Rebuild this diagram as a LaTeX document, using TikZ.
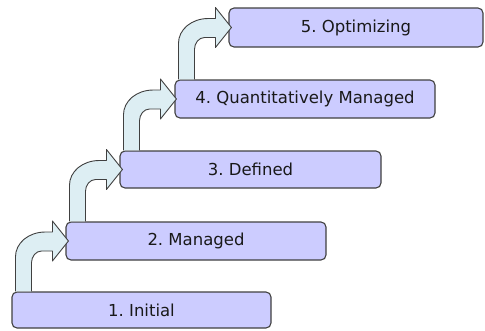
\documentclass[tikz,border=0pt]{standalone}
\usepackage{fontspec}
\setmainfont{DejaVu Sans}
\usetikzlibrary{calc}
\definecolor{boxfill}{HTML}{CCCCFF}
\definecolor{arrfill}{HTML}{DDEEF3}
\definecolor{edge}{HTML}{404040}
\tikzset{
  levelbox/.style={draw=edge, fill=boxfill, line width=1.1pt, rounded corners=5pt,
    inner sep=0pt, font=\fontsize{16.5}{18}\selectfont, text=black!90},
  steparr/.style={draw=edge, fill=arrfill, line width=0.9pt, line join=round}
}
\newcommand\steparrow[2]{%
  \filldraw[steparr] let \p1=(#1.north west), \p2=(#2.west) in
   (\x1+4pt,\y1) -- (\x1+4pt,\y2-16pt)
   .. controls (\x1+4pt,\y2-2pt) and (\x1+17pt,\y2+9pt) .. (\x1+34pt,\y2+9pt)
   -- (\x1+41pt,\y2+9pt) -- (\x1+41pt,\y2+20pt) -- (\x1+57pt,\y2)
   -- (\x1+41pt,\y2-20pt) -- (\x1+41pt,\y2-10pt) -- (\x1+30pt,\y2-10pt)
   .. controls (\x1+24.5pt,\y2-10pt) and (\x1+20pt,\y2-15.5pt) .. (\x1+20pt,\y2-22pt)
   -- (\x1+20pt,\y1);%
}
\begin{document}
\begin{tikzpicture}[x=1pt,y=-1pt]
\useasboundingbox (0,0) rectangle (485,330);
\node[levelbox, minimum width=259pt, minimum height=36pt] (b1) at (141.5,310) {1.\ Initial};
\node[levelbox, minimum width=260pt, minimum height=38pt] (b2) at (196,241) {2.\ Managed};
\node[levelbox, minimum width=261pt, minimum height=37pt] (b3) at (250.5,169.5) {3.\ Defined};
\node[levelbox, minimum width=260pt, minimum height=38pt] (b4) at (305,99) {4.\ Quantitatively Managed};
\node[levelbox, minimum width=254pt, minimum height=39pt] (b5) at (356,27.5) {5.\ Optimizing};
\steparrow{b1}{b2}
\steparrow{b2}{b3}
\steparrow{b3}{b4}
\steparrow{b4}{b5}
\end{tikzpicture}
\end{document}
